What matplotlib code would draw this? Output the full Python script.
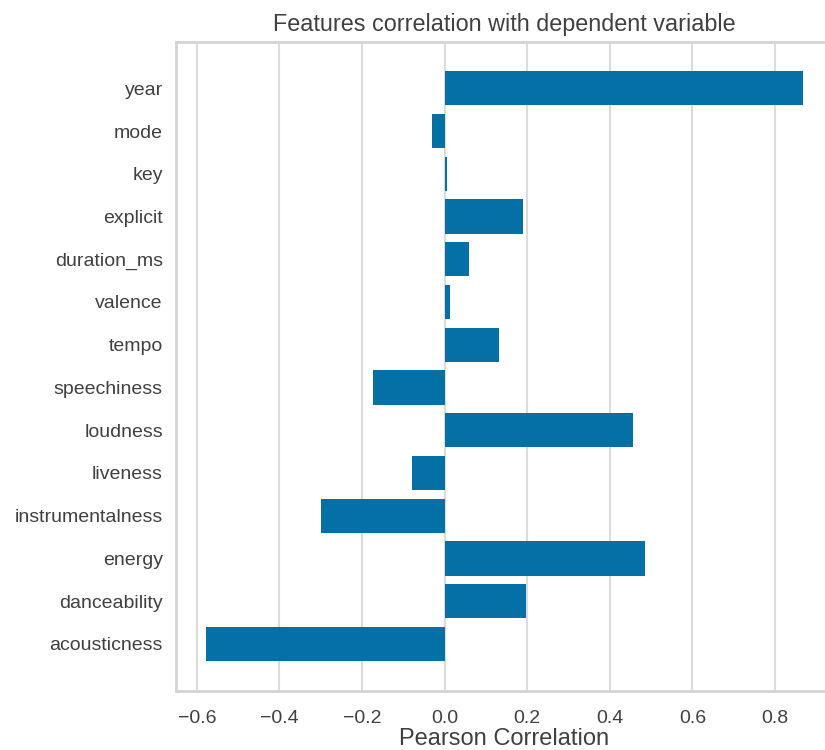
import matplotlib
matplotlib.use("Agg")
import matplotlib.pyplot as plt

features = ["acousticness", "danceability", "energy", "instrumentalness", "liveness",
            "loudness", "speechiness", "tempo", "valence", "duration_ms",
            "explicit", "key", "mode", "year"]
correlations = [-0.578, 0.196, 0.484, -0.299, -0.078,
                0.455, -0.173, 0.131, 0.013, 0.058,
                0.190, 0.007, -0.031, 0.868]
xticks = [-0.6, -0.4, -0.2, 0.0, 0.2, 0.4, 0.6, 0.8]

plt.rcParams['font.family'] = ['Liberation Sans', 'DejaVu Sans']

fig = plt.figure(figsize=(8.25, 7.5), dpi=100)
ax = fig.add_axes([176/825, 1 - 690.5/750, (833-176)/825, (690.5-41.7)/750])

ax.barh(range(len(features)), correlations, height=0.8, color='#0570a5', zorder=3)
ax.set_yticks(range(len(features)))
ax.set_yticklabels(features)
ax.set_xticks(xticks)
ax.set_xticklabels([f"{t:.1f}".replace('-', '\u2212') for t in xticks])
ax.margins(x=0.05, y=0.05)

ax.grid(axis='x', color='#dcdcdc', linewidth=1.5, zorder=0)
ax.grid(axis='y', visible=False)
ax.set_axisbelow(True)
for s in ax.spines.values():
    s.set_color('#d4d4d4')
    s.set_linewidth(2)
ax.tick_params(axis='both', length=0, labelsize=14, colors='#404040')
ax.tick_params(axis='y', pad=9.5)
ax.tick_params(axis='x', pad=14)
ax.set_xlabel("Pearson Correlation", fontsize=17, color='#404040', labelpad=1)
ax.set_title("Features correlation with dependent variable", fontsize=16.8, color='#404040', pad=8)
ax.set_facecolor('white')
fig.patch.set_facecolor('white')

fig.savefig("out.png", dpi=100)
